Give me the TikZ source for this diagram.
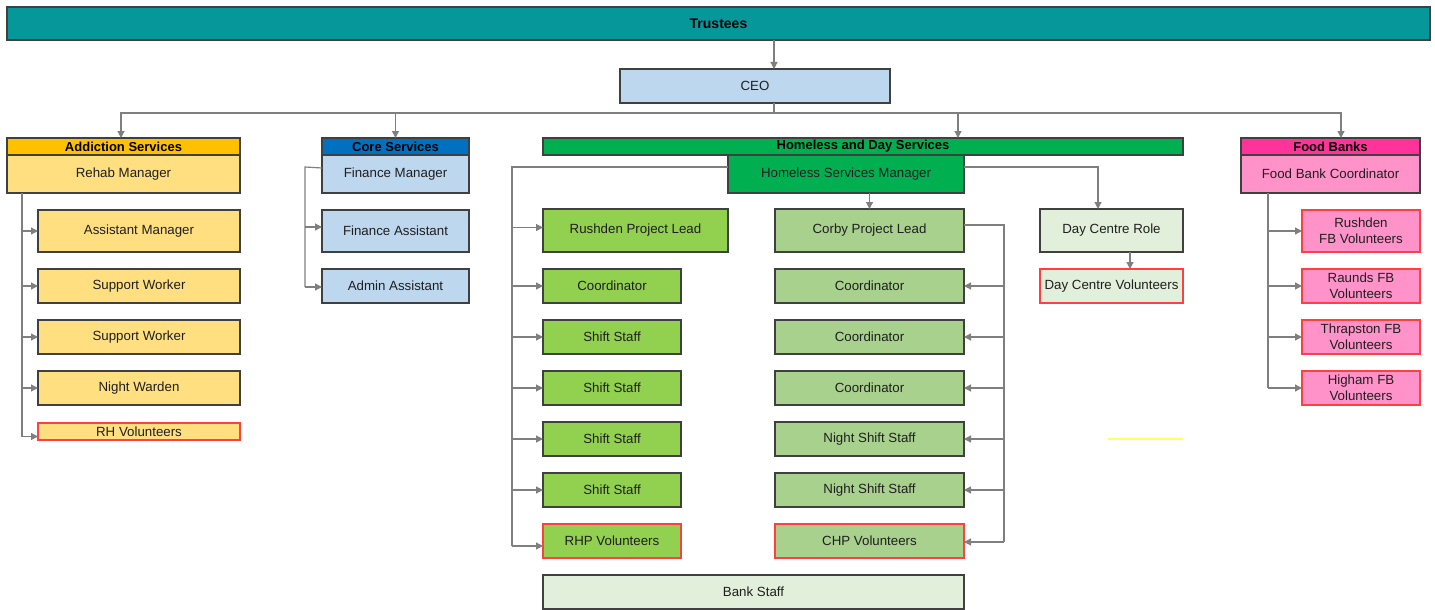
\documentclass[tikz,border=0pt]{standalone}
\usepackage{fontspec}
\setmainfont{Liberation Sans}
\usetikzlibrary{arrows.meta}
\definecolor{teal1}{HTML}{05979A}
\definecolor{ceoblue}{HTML}{BDD7EE}
\definecolor{addh}{HTML}{FFC000}
\definecolor{addl}{HTML}{FFDF80}
\definecolor{coreh}{HTML}{0070C0}
\definecolor{homh}{HTML}{00B050}
\definecolor{rgreen}{HTML}{92D050}
\definecolor{cgreen}{HTML}{A9D18E}
\definecolor{lgreen}{HTML}{E2EFDA}
\definecolor{fbh}{HTML}{FF3399}
\definecolor{fbl}{HTML}{FF92C9}
\definecolor{redb}{HTML}{FF4040}
\definecolor{boxb}{HTML}{404040}
\definecolor{linec}{HTML}{7F7F7F}
\definecolor{txt}{HTML}{1F1F1F}
\definecolor{yell}{HTML}{FFFF66}
\tikzset{
  box/.style={draw=boxb, line width=1.3pt, inner sep=0pt, outer sep=0pt, text=txt,
    font=\fontsize{13.3}{15}\selectfont, align=center},
  hdr/.style={box, font=\fontsize{13}{15}\selectfont\bfseries, text=black},
  volbox/.style={box, draw=redb},
  sz/.style n args={2}{minimum width=#1pt, minimum height=#2pt},
  conn/.style={draw=linec, line width=1.2pt},
  arr/.style={conn, -{Triangle[length=7pt,width=7pt]}},
}
\begin{document}
\begin{tikzpicture}[x=1pt,y=-1pt]
\useasboundingbox (0,0) rectangle (1435,610);

% Trustees and CEO
\node[hdr, fill=teal1, sz={1423}{33}, font=\fontsize{14}{16}\selectfont\bfseries] (trustees) at (718.5,23.5) {Trustees};
\node[box, fill=ceoblue, sz={270}{34}] (ceo) at (755,86) {CEO};
\draw[arr] ([xshift=19pt]ceo.north |- trustees.south) -- ([xshift=19pt]ceo.north);

% Addiction services
\node[hdr, fill=addh, sz={233}{17}] (addhdr) at (123.5,146.5) {Addiction Services};
\node[box, fill=addl, sz={233}{38}] (rehab) at (123.5,174) {Rehab Manager};
\node[box, fill=addl, sz={202}{42}] (am) at (139,231) {Assistant Manager};
\node[box, fill=addl, sz={202}{34}] (sw1) at (139,286) {Support Worker};
\node[box, fill=addl, sz={202}{34}] (sw2) at (139,337) {Support Worker};
\node[box, fill=addl, sz={202}{34}] (nw) at (139,388) {Night Warden};
\node[volbox, fill=addl, sz={202}{17}] (rhv) at (139,431.5) {RH Volunteers};

% Core services
\node[hdr, fill=coreh, sz={147}{17}] (corehdr) at (395.5,146.5) {Core Services};
\node[box, fill=ceoblue, sz={147}{38}] (finm) at (395.5,174) {Finance Manager};
\node[box, fill=ceoblue, sz={147}{42}] (fina) at (395.5,231) {Finance Assistant};
\node[box, fill=ceoblue, sz={147}{34}] (adm) at (395.5,286) {Admin Assistant};

% Homeless and day services
\node[hdr, fill=homh, sz={640}{17}] (homhdr) at (863,146.5) {Homeless and Day Services};
\node[box, fill=homh, sz={236}{38}] (hsm) at (846,174) {Homeless Services Manager};
\node[box, fill=rgreen, sz={185}{43}] (rpl) at (635.5,230.5) {Rushden Project Lead};
\node[box, fill=rgreen, sz={138}{34}] (lco) at (612,286) {Coordinator};
\node[box, fill=rgreen, sz={138}{34}] (ls1) at (612,337) {Shift Staff};
\node[box, fill=rgreen, sz={138}{34}] (ls2) at (612,388) {Shift Staff};
\node[box, fill=rgreen, sz={138}{34}] (ls3) at (612,439) {Shift Staff};
\node[box, fill=rgreen, sz={138}{34}] (ls4) at (612,490) {Shift Staff};
\node[volbox, fill=rgreen, sz={138}{34}] (rhp) at (612,541) {RHP Volunteers};

\node[box, fill=cgreen, sz={189}{43}] (cpl) at (869.5,230.5) {Corby Project Lead};
\node[box, fill=cgreen, sz={189}{34}] (rco1) at (869.5,286) {Coordinator};
\node[box, fill=cgreen, sz={189}{34}] (rco2) at (869.5,337) {Coordinator};
\node[box, fill=cgreen, sz={189}{34}] (rco3) at (869.5,388) {Coordinator};
\node[box, fill=cgreen, sz={189}{34}] (rns1) at (869.5,439) {Night Shift Staff};
\node[box, fill=cgreen, sz={189}{34}] (rns2) at (869.5,490) {Night Shift Staff};
\node[volbox, fill=cgreen, sz={189}{34}] (chp) at (869.5,541) {CHP Volunteers};

\node[box, fill=lgreen, sz={421}{34}] (bank) at (753.5,592) {Bank Staff};

\node[box, fill=lgreen, sz={143}{43}] (dcr) at (1111.5,230.5) {\raisebox{-8pt}{Day Centre Role}};
\node[volbox, fill=lgreen, sz={143}{34}] (dcv) at (1111.5,286) {Day Centre Volunteers};

% Food banks
\node[hdr, fill=fbh, sz={179}{17}] (fbhdr) at (1330.5,146.5) {Food Banks};
\node[box, fill=fbl, sz={179}{38}] (fbc) at (1330.5,174) {Food Bank Coordinator};
\tikzset{fbv/.style={volbox, fill=fbl, font=\fontsize{13.3}{16}\selectfont}}
\node[fbv, sz={118}{42}] (fb1) at (1361,231) {Rushden\\FB Volunteers};
\node[fbv, sz={118}{34}] (fb2) at (1361,286) {Raunds FB\\Volunteers};
\node[fbv, sz={118}{34}] (fb3) at (1361,337) {Thrapston FB\\Volunteers};
\node[fbv, sz={118}{34}] (fb4) at (1361,388) {Higham FB\\Volunteers};

% CEO bus
\coordinate (bus) at (774,113);
\draw[conn] ([xshift=19pt]ceo.south) -- (bus);
\draw[arr] (bus) -| ([xshift=-2.5pt]addhdr.north);
\draw[arr] (bus) -| (corehdr.north);
\draw[arr] (bus) -| ([xshift=95pt]homhdr.north);
\draw[arr] (bus) -| ([xshift=10.5pt]fbhdr.north);

% Rehab tree
\coordinate (rt) at (22,193);
\draw[conn] (rt |- rehab.south) -- ([yshift=-5pt]rt |- rhv.west);
\foreach \n in {am,sw1,sw2,nw}
  \draw[arr] (rt |- \n.west) -- (\n.west);
\draw[arr] ([yshift=-5pt]rt |- rhv.west) -- ([yshift=-5pt]rhv.west);

% Core tree
\coordinate (ct) at (305,167);
\draw[conn] ([yshift=6pt]finm.west) -- (ct) -- ([yshift=-1pt]ct |- adm.west);
\draw[arr] ([yshift=4pt]ct |- fina.west) -- ([yshift=4pt]fina.west);
\draw[arr] ([yshift=-1pt]ct |- adm.west) -- ([yshift=-1pt]adm.west);

% Homeless left tree
\coordinate (ht) at (512,167);
\draw[conn] ([yshift=7pt]hsm.west) -- (ht) -- ([yshift=-5pt]ht |- rhp.west);
\draw[arr] ([yshift=3pt]ht |- rpl.west) -- ([yshift=3pt]rpl.west);
\foreach \n in {lco,ls1,ls2,ls3,ls4}
  \draw[arr] (ht |- \n.west) -- (\n.west);
\draw[arr] ([yshift=-5pt]ht |- rhp.west) -- ([yshift=-5pt]rhp.west);

% HSM to day centre and Corby
\coordinate (dt) at (1098,167);
\draw[arr] ([yshift=7pt]hsm.east) -- (dt) -- ([xshift=-13.5pt]dcr.north);
\draw[arr] (cpl.north |- hsm.south) -- (cpl.north);
\draw[arr] ([xshift=18.5pt]dcr.south) -- ([xshift=18.5pt]dcv.north);

% Corby tree
\coordinate (cr) at (1004,225);
\draw[conn] ([yshift=5.5pt]cpl.east) -- (cr) -- ([yshift=-1pt]cr |- chp.east);
\foreach \n in {rco1,rco2,rco3,rns1,rns2}
  \draw[arr] (cr |- \n.east) -- (\n.east);
\draw[arr] ([yshift=-1pt]cr |- chp.east) -- ([yshift=-1pt]chp.east);

% Food bank tree
\coordinate (ft) at (1268,193);
\draw[conn] (ft |- fbc.south) -- (ft |- fb4.west);
\foreach \n in {fb1,fb2,fb3,fb4}
  \draw[arr] (ft |- \n.west) -- (\n.west);

% stray yellow line
\draw[yell, line width=1.5pt] (1108,439) -- (1183,439);
\end{tikzpicture}
\end{document}
